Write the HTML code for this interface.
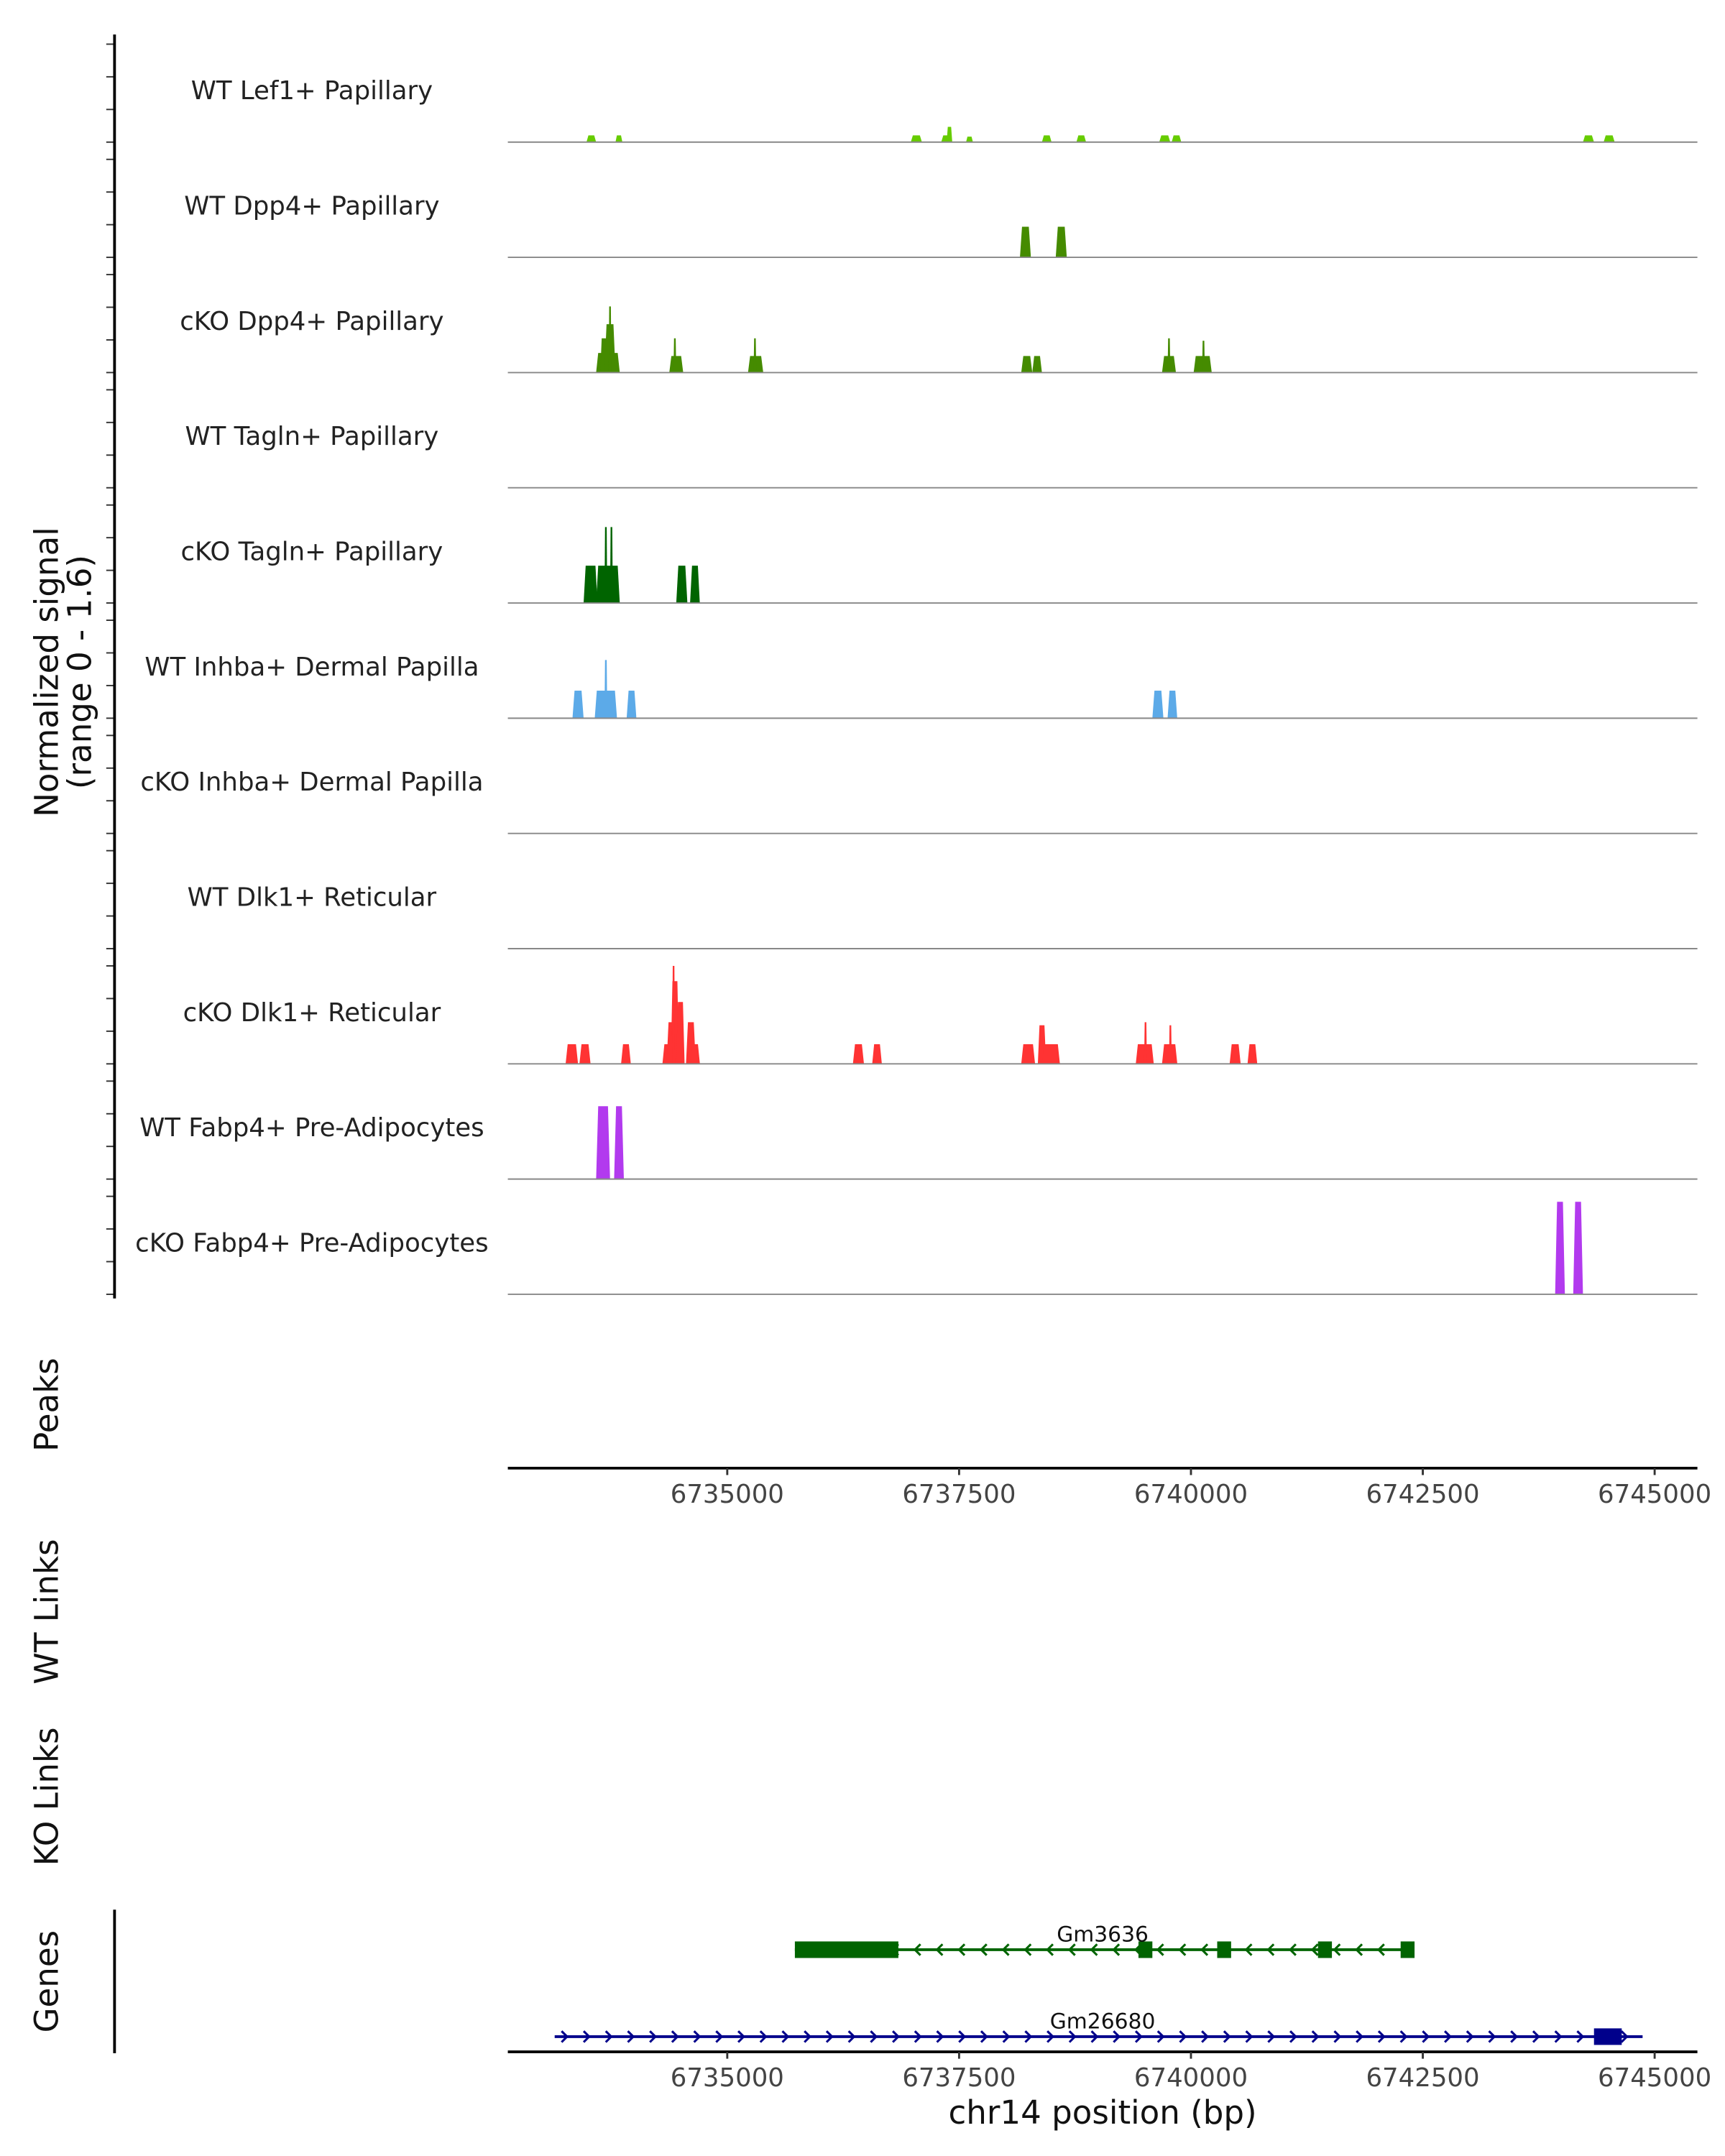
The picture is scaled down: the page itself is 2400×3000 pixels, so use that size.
<!DOCTYPE html>
<html><head><meta charset="utf-8"><style>
html,body{margin:0;padding:0;background:#fff;}
svg{display:block;font-family:"DejaVu Sans","Liberation Sans",sans-serif;}
</style></head><body>
<svg id="chart" width="2400" height="3000" viewBox="0 0 1250 1562.5" xmlns="http://www.w3.org/2000/svg">
<g id="tracks"></g>
<g id="axes"></g>
<g id="genes"></g>
</svg>
<script>
const trackLabels = ["WT Lef1+ Papillary","WT Dpp4+ Papillary","cKO Dpp4+ Papillary","WT Tagln+ Papillary","cKO Tagln+ Papillary","WT Inhba+ Dermal Papilla","cKO Inhba+ Dermal Papilla","WT Dlk1+ Reticular","cKO Dlk1+ Reticular","WT Fabp4+ Pre-Adipocytes","cKO Fabp4+ Pre-Adipocytes"];
const trackColors = ["#66cc00","#458b00","#458b00","#006400","#006400","#5caae8","#5caae8","#ff3333","#ff3333","#b23aee","#b23aee"];
const trackStarts = [
 [6733482,6733795,6736979,6737307,6737366,6737575,6738393,6738765,6739658,6739792,6744227,6744450],
 [6738156,6738542],
 [6733586,6733631,6733676,6733721,6734375,6734420,6735224,6735284,6738170,6738289,6739688,6739748,6740029,6740120],
 [],
 [6733451,6733586,6733676,6733736,6734450,6734599],
 [6733331,6733571,6733676,6733915,6739584,6739748],
 [],
 [],
 [6733257,6733406,6733855,6734301,6734346,6734391,6734406,6734450,6734555,6734600,6736355,6736563,6738170,6738349,6738393,6739405,6739495,6739688,6739763,6740417,6740610],
 [6733586,6733780],
 [6743927,6744122]
];
const trackEnds = [
 [6733586,6733869,6737099,6737426,6737426,6737649,6738497,6738869,6739777,6739896,6744346,6744569],
 [6738274,6738661],
 [6733841,6733706,6733795,6733751,6734525,6734450,6735388,6735313,6738289,6738393,6739838,6739778,6740224,6740150],
 [],
 [6733601,6733841,6733706,6733766,6734570,6734704],
 [6733451,6733811,6733706,6734020,6739703,6739852],
 [],
 [],
 [6733391,6733526,6733960,6734406,6734450,6734480,6734436,6734540,6734660,6734705,6736474,6736667,6738319,6738438,6738587,6739599,6739525,6739853,6739793,6740536,6740715],
 [6733736,6733885],
 [6744032,6744227]
];
const trackHeights = [
 [.11,.11,.11,.11,.25,.09,.11,.11,.11,.11,.11,.11],
 [.5,.5],
 [.32,.56,.79,1.08,.27,.56,.27,.56,.27,.27,.27,.56,.27,.52],
 [],
 [.61,.61,1.24,1.24,.61,.61],
 [.45,.45,.95,.45,.45,.45],
 [],
 [],
 [.32,.32,.32,.32,.68,1.35,1.6,1.01,.68,.32,.32,.32,.32,.63,.32,.32,.68,.32,.63,.32,.32],
 [1.19,1.19],
 [1.51,1.51]
];
const xTicks = [6735000,6737500,6740000,6742500,6745000];
const yMax = 1.6;
const gene1Name = "Gm3636", gene1Start = 6735729, gene1End = 6742366, gene1Utr = [6735729,6736845];
const gene1Exons = [6739509,6740358,6741445,6742336];
const gene2Name = "Gm26680", gene2Start = 6733139, gene2End = 6744870, gene2Cds = [6744346,6744645];

const NS="http://www.w3.org/2000/svg";
function mk(tag, attrs, parent, text){const e=document.createElementNS(NS,tag);for(const k in attrs)e.setAttribute(k,attrs[k]);if(text!==undefined)e.textContent=text;parent.appendChild(e);return e;}
const X0=368,X1=1230,B0=6732634,B1=6745461;
function xs(bp){return X0+(bp-B0)/(B1-B0)*(X1-X0);}
const trackH=71, firstBase=103, step=83.5;
function ys(v,base){return base-v/yMax*trackH;}

const gT=document.getElementById('tracks');
trackLabels.forEach((lab,i)=>{
  const base=firstBase+i*step;
  const t=mk('text',{x:226,y:base-31,'text-anchor':'middle','font-size':18.5,fill:'#222'},gT,lab);
  
  
  trackStarts[i].forEach((s,j)=>{
    const a=xs(s),b=xs(trackEnds[i][j]),w=b-a,top=ys(trackHeights[i][j],base);
    const inset=Math.min(1.5,w*0.2);
    const p=mk('polygon',{points:`${a},${base} ${a+inset},${top} ${b-inset},${top} ${b},${base}`,fill:trackColors[i]},gT);
    
    
  });
  const l=mk('line',{x1:X0,x2:X1,y1:base,y2:base,stroke:'#888','stroke-width':1},gT);
  
  
  for(let k=0;k<4;k++){
    const ty=base-k*trackH/3;
    const tk=mk('line',{x1:77,x2:83,y1:ty,y2:ty,stroke:'#333','stroke-width':1},gT);
    
    
  }
});
const gA=document.getElementById('axes');
let e;
e=mk('line',{x1:83,x2:83,y1:25,y2:941,stroke:'#000','stroke-width':2},gA);

e=mk('text',{transform:'translate(42,487) rotate(-90)','text-anchor':'middle','font-size':23.5,fill:'#111'},gA,'Normalized signal');

e=mk('text',{transform:'translate(66,487) rotate(-90)','text-anchor':'middle','font-size':23.5,fill:'#111'},gA,'(range 0 - 1.6)');

[['Peaks',1018],['WT Links',1168],['KO Links',1302],['Genes',1436]].forEach(([t,y])=>{
  const el=mk('text',{transform:`translate(42,${y}) rotate(-90)`,'text-anchor':'middle','font-size':23.5,fill:'#111'},gA,t);
  
  
});
[1064,1487].forEach(y=>{
  const ax=mk('line',{x1:X0,x2:X1,y1:y,y2:y,stroke:'#000','stroke-width':2},gA);
  
  
  xTicks.forEach(v=>{
    const tk=mk('line',{x1:xs(v),x2:xs(v),y1:y,y2:y+5,stroke:'#333','stroke-width':1.5},gA);
    
    
    const tl=mk('text',{x:xs(v),y:y+25,'text-anchor':'middle','font-size':18.5,fill:'#444'},gA,String(v));
    
    
  });
});
e=mk('text',{x:799,y:1539,'text-anchor':'middle','font-size':23.5,fill:'#111'},gA,'chr14 position (bp)');

e=mk('line',{x1:83,x2:83,y1:1384,y2:1488,stroke:'#000','stroke-width':2},gA);


const gG=document.getElementById('genes');
function drawGene(name,s,en,y,color,dir,boxes){
  const a=xs(s),b=xs(en);
  let el=mk('line',{x1:a,x2:b,y1:y,y2:y,stroke:color,'stroke-width':2},gG);
  
  for(let x=a+8;x<b-4;x+=16){
    const d=dir>0?`M${x-3},${y-4} L${x+1},${y} L${x-3},${y+4}`:`M${x+3},${y-4} L${x-1},${y} L${x+3},${y+4}`;
    el=mk('path',{d:d,stroke:color,'stroke-width':1.6,fill:'none'},gG);
    
  }
  boxes.forEach(([bs,be])=>{
    el=mk('rect',{x:xs(bs),y:y-6,width:Math.max(xs(be)-xs(bs),1),height:12,fill:color},gG);
    
  });
  el=mk('text',{x:799,y:y-6,'text-anchor':'middle','font-size':15.5,fill:'#111'},gG,name);
  
}
drawGene(gene1Name,gene1Start,gene1End,1413,'#006400',-1,[gene1Utr].concat(gene1Exons.map(v=>[v-75,v+75])));
drawGene(gene2Name,gene2Start,gene2End,1476,'#00008b',1,[gene2Cds]);
</script>
</body></html>
